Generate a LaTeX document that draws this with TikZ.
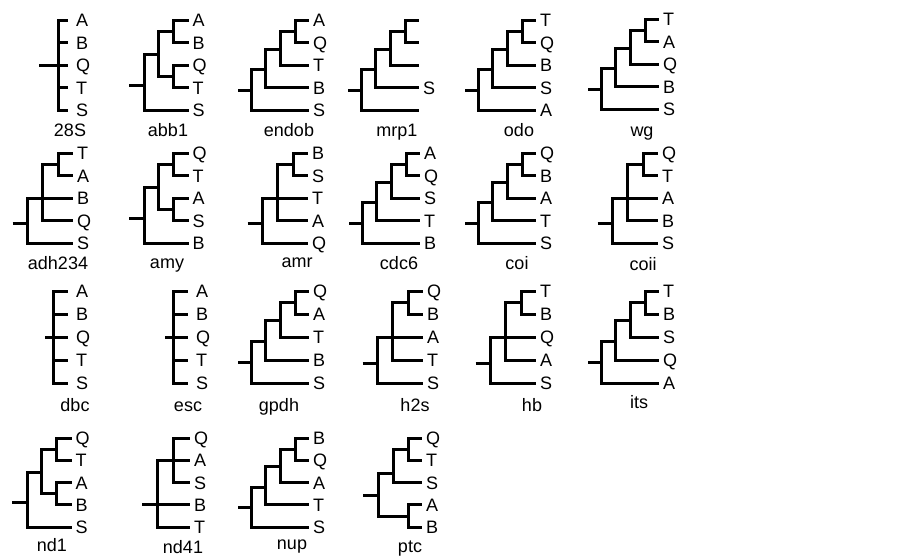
\documentclass[tikz,border=0pt]{standalone}
\usepackage{fontspec}
\setmainfont{Liberation Sans}
\tikzset{
  br/.style={line width=3pt, black},
  labbase/.style={anchor=base west, inner sep=0pt, outer sep=0pt, font=\fontsize{18}{20}\selectfont, yshift=-6.5pt},
  lab/.style={labbase, xshift=4pt},
  slab/.style={labbase, xshift=8pt},
  captxt/.style={anchor=base, inner sep=0pt, outer sep=0pt, font=\fontsize{18}{20}\selectfont}
}
% leaves: #1 x of leaf ends, #2 label style, #3-#7 labels
\newcommand\TrLeafs[7]{%
  \coordinate (\tn-l1) at (#1,0);
  \coordinate (\tn-l2) at (#1,\lsp);
  \coordinate (\tn-l3) at (#1,2*\lsp);
  \coordinate (\tn-l4) at (#1,3*\lsp);
  \coordinate (\tn-l5) at (#1,4*\lsp);
  \node[#2] (\tn-t1) at (\tn-l1) {#3};
  \node[#2] (\tn-t2) at (\tn-l2) {#4};
  \node[#2] (\tn-t3) at (\tn-l3) {#5};
  \node[#2] (\tn-t4) at (\tn-l4) {#6};
  \node[#2] (\tn-t5) at (\tn-l5) {#7};
}
% ((((1,2),3),4),5)
\newcommand\TrLadder[7]{%
  \begin{scope}[shift={(#1,#2)}]
    \TrLeafs{58}{lab}{#3}{#4}{#5}{#6}{#7}
    \coordinate (\tn-s) at (-13,3.12*\lsp);
    \coordinate (\tn-r) at (0,3.12*\lsp);
    \coordinate (\tn-n3) at (14.5,2.2*\lsp);
    \coordinate (\tn-n2) at (29,1.3*\lsp);
    \coordinate (\tn-n1) at (44,0.5*\lsp);
    \draw[br] (\tn-s) -- (\tn-r);
    \draw[br] (\tn-r) |- (\tn-n3);
    \draw[br] (\tn-r) |- (\tn-l5);
    \draw[br] (\tn-n3) |- (\tn-n2);
    \draw[br] (\tn-n3) |- (\tn-l4);
    \draw[br] (\tn-n2) |- (\tn-n1);
    \draw[br] (\tn-n2) |- (\tn-l3);
    \draw[br] (\tn-n1) |- (\tn-l1);
    \draw[br] (\tn-n1) |- (\tn-l2);
  \end{scope}}
% (((1,2),(3,4)),5)
\newcommand\TrPairs[7]{%
  \begin{scope}[shift={(#1,#2)}]
    \TrLeafs{44.5}{lab}{#3}{#4}{#5}{#6}{#7}
    \coordinate (\tn-s) at (-15,2.9*\lsp);
    \coordinate (\tn-r) at (0,2.9*\lsp);
    \coordinate (\tn-n2) at (14.5,1.55*\lsp);
    \coordinate (\tn-a) at (29.5,0.5*\lsp);
    \coordinate (\tn-b) at (29.5,2.5*\lsp);
    \draw[br] (\tn-s) -- (\tn-r);
    \draw[br] (\tn-r) |- (\tn-n2);
    \draw[br] (\tn-r) |- (\tn-l5);
    \draw[br] (\tn-n2) |- (\tn-a);
    \draw[br] (\tn-n2) |- (\tn-b);
    \draw[br] (\tn-a) |- (\tn-l1);
    \draw[br] (\tn-a) |- (\tn-l2);
    \draw[br] (\tn-b) |- (\tn-l3);
    \draw[br] (\tn-b) |- (\tn-l4);
  \end{scope}}
% (((1,2),3,4),5)
\newcommand\TrTrio[7]{%
  \begin{scope}[shift={(#1,#2)}]
    \TrLeafs{46}{lab}{#3}{#4}{#5}{#6}{#7}
    \coordinate (\tn-s) at (-14.5,3.15*\lsp);
    \coordinate (\tn-r) at (0,3.15*\lsp);
    \coordinate (\tn-n2) at (15,2*\lsp);
    \coordinate (\tn-a) at (31,0.5*\lsp);
    \draw[br] (\tn-s) -- (\tn-r);
    \draw[br] (\tn-r) |- (\tn-n2);
    \draw[br] (\tn-r) |- (\tn-l5);
    \draw[br] (\tn-n2) |- (\tn-a);
    \draw[br] (\tn-n2) |- (\tn-l3);
    \draw[br] (\tn-n2) |- (\tn-l4);
    \draw[br] (\tn-a) |- (\tn-l1);
    \draw[br] (\tn-a) |- (\tn-l2);
  \end{scope}}
% ((1,2,3),4,5)
\newcommand\TrNd[7]{%
  \begin{scope}[shift={(#1,#2)}]
    \TrLeafs{33}{lab}{#3}{#4}{#5}{#6}{#7}
    \coordinate (\tn-s) at (-15,3*\lsp);
    \coordinate (\tn-r) at (0,3*\lsp);
    \coordinate (\tn-n2) at (16,\lsp);
    \draw[br] (\tn-s) -- (\tn-r);
    \draw[br] (\tn-r) |- (\tn-n2);
    \draw[br] (\tn-r) |- (\tn-l4);
    \draw[br] (\tn-r) |- (\tn-l5);
    \draw[br] (\tn-n2) |- (\tn-l1);
    \draw[br] (\tn-n2) |- (\tn-l2);
    \draw[br] (\tn-n2) |- (\tn-l3);
  \end{scope}}
% (((1,2),3),(4,5))
\newcommand\TrPtc[7]{%
  \begin{scope}[shift={(#1,#2)}]
    \TrLeafs{44}{lab}{#3}{#4}{#5}{#6}{#7}
    \coordinate (\tn-s) at (-15,2.6*\lsp);
    \coordinate (\tn-r) at (0,2.6*\lsp);
    \coordinate (\tn-n2) at (15,1.6*\lsp);
    \coordinate (\tn-a) at (30,0.5*\lsp);
    \coordinate (\tn-b) at (30,3.5*\lsp);
    \draw[br] (\tn-s) -- (\tn-r);
    \draw[br] (\tn-r) |- (\tn-n2);
    \draw[br] (\tn-r) |- (\tn-b);
    \draw[br] (\tn-n2) |- (\tn-a);
    \draw[br] (\tn-n2) |- (\tn-l3);
    \draw[br] (\tn-a) |- (\tn-l1);
    \draw[br] (\tn-a) |- (\tn-l2);
    \draw[br] (\tn-b) |- (\tn-l4);
    \draw[br] (\tn-b) |- (\tn-l5);
  \end{scope}}
% star: #1 X, #2 Y, #3 stub length, #4 tick length, #5-#9 labels
\newcommand\TrStar[9]{%
  \begin{scope}[shift={(#1,#2)}]
    \TrLeafs{#4}{slab}{#5}{#6}{#7}{#8}{#9}
    \coordinate (\tn-s) at (-#3,2*\lsp);
    \coordinate (\tn-r) at (0,2*\lsp);
    \draw[br] (\tn-s) -- (\tn-r);
    \draw[br] (\tn-r) |- (\tn-l1);
    \draw[br] (\tn-r) |- (\tn-l2);
    \draw[br] (\tn-r) -- (\tn-l3);
    \draw[br] (\tn-r) |- (\tn-l4);
    \draw[br] (\tn-r) |- (\tn-l5);
  \end{scope}}
\begin{document}
\begin{tikzpicture}[x=1pt,y=-1pt]
\fill[white] (0,0) rectangle (903,560);
\useasboundingbox (0,0) rectangle (903,560);
% ---------- row 1
\def\lsp{22.5}
\def\tn{28S}\TrStar{58}{20}{19}{10}{A}{B}{Q}{T}{S}
\def\tn{abb1}\TrPairs{144}{20}{A}{B}{Q}{T}{S}
\def\tn{endob}\TrLadder{251}{20}{A}{Q}{T}{B}{S}
\def\tn{mrp1}\TrLadder{361}{20}{}{}{}{S}{}
\def\tn{odo}\TrLadder{478}{20}{T}{Q}{B}{S}{A}
\def\tn{wg}\TrLadder{601}{19}{T}{A}{Q}{B}{S}
\node[captxt] (c-28S) at (70,136.5) {28S};
\node[captxt] (c-abb1) at (168,136.5) {abb1};
\node[captxt] (c-endob) at (289,136.5) {endob};
\node[captxt] (c-mrp1) at (397,136.5) {mrp1};
\node[captxt] (c-odo) at (519,136.5) {odo};
\node[captxt] (c-wg) at (642,136.5) {wg};
% ---------- row 2
\def\lsp{22.5}
\def\tn{adh234}\TrTrio{27}{153}{T}{A}{B}{Q}{S}
\def\tn{amy}\TrPairs{144}{153}{Q}{T}{A}{S}{B}
\def\tn{amr}\TrTrio{262}{153}{B}{S}{T}{A}{Q}
\def\tn{cdc6}\TrLadder{362}{153}{A}{Q}{S}{T}{B}
\def\tn{coi}\TrLadder{478}{153}{Q}{B}{A}{T}{S}
\def\tn{coii}\TrTrio{612}{153}{Q}{T}{A}{B}{S}
\node[captxt] (c-adh234) at (58,269) {adh234};
\node[captxt] (c-amy) at (167,268) {amy};
\node[captxt] (c-amr) at (297,267) {amr};
\node[captxt] (c-cdc6) at (399,269) {cdc6};
\node[captxt] (c-coi) at (517,269) {coi};
\node[captxt] (c-coii) at (643,270) {coii};
% ---------- row 3
\def\lsp{23}
\def\tn{dbc}\TrStar{53}{291}{8}{15}{A}{B}{Q}{T}{S}
\def\tn{esc}\TrStar{173}{291}{8}{15}{A}{B}{Q}{T}{S}
\def\tn{gpdh}\TrLadder{251}{291}{Q}{A}{T}{B}{S}
\def\tn{h2s}\TrTrio{377}{291}{Q}{B}{A}{T}{S}
\def\tn{hb}\TrTrio{490}{291}{T}{B}{Q}{A}{S}
\def\tn{its}\TrLadder{601}{291}{T}{B}{S}{Q}{A}
\node[captxt] (c-dbc) at (75,411) {dbc};
\node[captxt] (c-esc) at (188,411) {esc};
\node[captxt] (c-gpdh) at (279,411) {gpdh};
\node[captxt] (c-h2s) at (415,411) {h2s};
\node[captxt] (c-hb) at (532,411) {hb};
\node[captxt] (c-its) at (639,408) {its};
% ---------- row 4
\def\lsp{22.3}
\def\tn{nd1}\TrPairs{27}{438}{Q}{T}{A}{B}{S}
\def\tn{nd41}\TrNd{157}{438}{Q}{A}{S}{B}{T}
\def\tn{nup}\TrLadder{251}{438}{B}{Q}{A}{T}{S}
\def\tn{ptc}\TrPtc{378}{438}{Q}{T}{S}{A}{B}
\node[captxt] (c-nd1) at (52,551) {nd1};
\node[captxt] (c-nd41) at (183,553) {nd41};
\node[captxt] (c-nup) at (292,549) {nup};
\node[captxt] (c-ptc) at (410,552) {ptc};
\end{tikzpicture}
\end{document}
